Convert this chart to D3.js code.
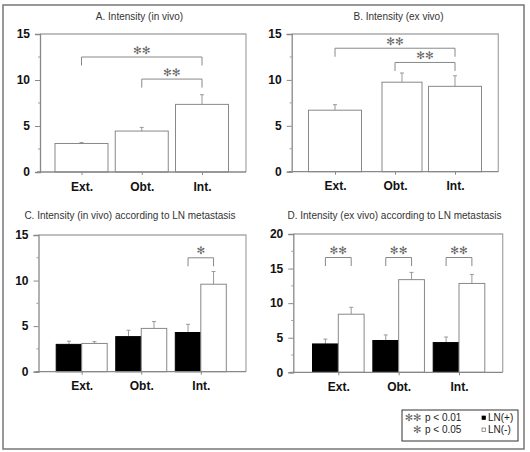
<!DOCTYPE html>
<html><head><meta charset="utf-8">
<script src="https://cdn.jsdelivr.net/npm/d3@7"></script>
<style>body{margin:0;background:#fff}svg{display:block}</style>
</head><body>
<svg id="chart" width="530" height="452"></svg>
<script>
// ---- data ----
const categories = ["Ext.", "Obt.", "Int."];
const groups = ["LN(+)", "LN(-)"];

const aMeans = [3.1, 4.45, 7.35];
const aErr   = [0.1, 0.4, 1.05];

const bMeans = [6.7, 9.75, 9.3];
const bErr   = [0.6, 1.0, 1.15];

const cPos    = [3.0, 3.85, 4.3];
const cPosErr = [0.35, 0.7, 0.9];
const cNeg    = [3.1, 4.75, 9.6];
const cNegErr = [0.2, 0.75, 1.4];

const dPos    = [4.1, 4.6, 4.3];
const dPosErr = [0.7, 0.8, 0.8];
const dNeg    = [8.4, 13.4, 12.85];
const dNegErr = [1.0, 1.05, 1.3];

const ticks15 = [0, 5, 10, 15];
const ticks20 = [0, 5, 10, 15, 20];

// brackets: [fromIndex, toIndex, level(value), label]
const aBrackets = [[0, 2, 12.5, "**"], [1, 2, 10.1, "**"]];
const bBrackets = [[0, 2, 13.45, "**"], [1, 2, 11.9, "**"]];
const cBrackets = [[2, 2, 12.5, "*"]];
const dBrackets = [[0, 0, 16.6, "**"], [1, 1, 16.6, "**"], [2, 2, 16.6, "**"]];

const titles = ["A. Intensity (in vivo)", "B. Intensity (ex vivo)",
  "C. Intensity (in vivo) according to LN metastasis",
  "D. Intensity (ex vivo) according to LN metastasis"];

// ---- drawing ----
const svg = d3.select("#chart");
const FONT = "'Liberation Sans', Arial, sans-serif";
const STAR = "'DejaVu Sans', sans-serif";

svg.append("rect").attr("x", 3).attr("y", 5).attr("width", 521).attr("height", 444)
  .attr("fill", "none").attr("stroke", "#777").attr("stroke-width", 1.5);

function starText(s) { return s.replace(/\*/g, "\u273B"); }

function panel(cfg) {
  const g = svg.append("g");
  const y = d3.scaleLinear().domain([0, cfg.yMax]).range([cfg.y0, cfg.yTop]);
  const x = d3.scalePoint().domain(categories).range([cfg.c0, cfg.c1]);

  // title
  g.append("text").attr("x", cfg.tx).attr("y", cfg.ty).attr("text-anchor", "middle")
    .attr("font-family", FONT).attr("font-size", 10).attr("fill", "#333").text(cfg.title);

  // frame (top, right)
  g.append("path").attr("d", `M${cfg.ax},${cfg.yTop}H${cfg.rx}V${cfg.y0}`)
    .attr("fill", "none").attr("stroke", "#aaa").attr("stroke-width", 1.3);

  // bars
  const bw = cfg.bw;
  cfg.series.forEach((s, si) => {
    s.vals.forEach((v, i) => {
      const c = x(categories[i]) + (cfg.shift ? cfg.shift[i] : 0);
      const w = cfg.widths ? cfg.widths[i] : bw;
      const left = cfg.series.length === 1 ? c - w / 2 : c - w + si * w;
      const cx = left + w / 2;
      // error bar
      const top = y(v + s.err[i]);
      g.append("line").attr("x1", cx).attr("x2", cx).attr("y1", y(v)).attr("y2", top)
        .attr("stroke", "#999").attr("stroke-width", 1);
      g.append("line").attr("x1", cx - 2).attr("x2", cx + 2).attr("y1", top).attr("y2", top)
        .attr("stroke", "#999").attr("stroke-width", 1);
      g.append("rect").attr("x", left).attr("y", y(v)).attr("width", w)
        .attr("height", y(0) - y(v))
        .attr("fill", s.fill).attr("stroke", s.fill === "#000" ? "#000" : "#888").attr("stroke-width", 1);
    });
  });

  // y axis
  const yAxis = d3.axisLeft(y).tickValues(cfg.ticks).tickSize(5).tickFormat(d3.format("d"));
  const ya = g.append("g").attr("transform", `translate(${cfg.ax},0)`).call(yAxis);
  ya.select(".domain").attr("stroke", "#888").attr("stroke-width", 1.3);
  ya.selectAll(".tick line").attr("stroke", "#888");
  ya.selectAll(".tick text").attr("x", -10).attr("font-family", FONT).attr("font-size", 12)
    .attr("font-weight", "bold").attr("fill", "#111");
  // minor ticks
  const minor = d3.range(2.5, cfg.yMax, 5);
  g.selectAll(null).data(minor).join("line")
    .attr("x1", cfg.ax - 2).attr("x2", cfg.ax).attr("y1", d => y(d)).attr("y2", d => y(d))
    .attr("stroke", "#999");

  // x axis
  const xa = g.append("g").attr("transform", `translate(0,${cfg.y0})`)
    .call(d3.axisBottom(x).tickSize(3).tickSizeOuter(0));
  xa.select(".domain").attr("d", `M${cfg.ax - 3},0H${cfg.rx}`).attr("stroke", "#888").attr("stroke-width", 1.3);
  xa.selectAll(".tick line").attr("stroke", "#888");
  xa.selectAll(".tick text").attr("y", 10).attr("font-family", FONT).attr("font-size", 12)
    .attr("font-weight", "bold").attr("fill", "#111");

  // brackets
  cfg.brackets.forEach(([f, t, lvl, lab]) => {
    let x1, x2;
    if (f === t) {
      const c = x(categories[f]);
      x1 = c - bw / 2; x2 = c + bw / 2;
    } else { x1 = x(categories[f]); x2 = x(categories[t]); }
    const yy = y(lvl), leg = 8.5;
    g.append("path").attr("d", `M${x1},${yy + leg}V${yy}H${x2}V${yy + leg}`)
      .attr("fill", "none").attr("stroke", "#888").attr("stroke-width", 1);
    g.append("text").attr("x", (x1 + x2) / 2).attr("y", yy - 7.5)
      .attr("text-anchor", "middle").attr("dominant-baseline", "central")
      .attr("font-family", STAR).attr("font-size", 10.5).attr("fill", "#666")
      .text(starText(lab));
  });
}

panel({ title: titles[0], tx: 139.5, ty: 20, ax: 40, rx: 246, y0: 172, yTop: 34, yMax: 15,
  ticks: ticks15, c0: 81.5, c1: 202, bw: 53,
  series: [{ vals: aMeans, err: aErr, fill: "#fff" }], brackets: aBrackets });

panel({ title: titles[1], tx: 398.5, ty: 20, ax: 291.7, rx: 498.3, y0: 171.7, yTop: 34, yMax: 15,
  ticks: ticks15, c0: 335, c1: 455, bw: 53, widths: [53, 40, 53], shift: [0, 7, 0],
  series: [{ vals: bMeans, err: bErr, fill: "#fff" }], brackets: bBrackets });

panel({ title: titles[2], tx: 130, ty: 219, ax: 38.5, rx: 246, y0: 371.7, yTop: 235, yMax: 15,
  ticks: ticks15, c0: 81.7, c1: 200.8, bw: 25.5,
  series: [{ vals: cPos, err: cPosErr, fill: "#000" }, { vals: cNeg, err: cNegErr, fill: "#fff" }],
  brackets: cBrackets });

panel({ title: titles[3], tx: 394.5, ty: 219, ax: 293.3, rx: 502.7, y0: 372.3, yTop: 234, yMax: 20,
  ticks: ticks20, c0: 338.3, c1: 459, bw: 25.8,
  series: [{ vals: dPos, err: dPosErr, fill: "#000" }, { vals: dNeg, err: dNegErr, fill: "#fff" }],
  brackets: dBrackets });

// legend
const lg = svg.append("g");
lg.append("rect").attr("x", 402).attr("y", 410).attr("width", 116).attr("height", 31)
  .attr("fill", "#fff").attr("stroke", "#333").attr("stroke-width", 1);
const sig = [["**", "p < 0.01"], ["*", "p < 0.05"]];
sig.forEach(([s, t], i) => {
  const yy = 421 + i * 12;
  lg.append("text").attr("x", 421.5).attr("y", yy - 3.5).attr("text-anchor", "end")
    .attr("dominant-baseline", "central")
    .attr("font-family", STAR).attr("font-size", 10).attr("fill", "#666").text(starText(s));
  lg.append("text").attr("x", 425).attr("y", yy).attr("font-family", FONT)
    .attr("font-size", 10).attr("fill", "#222").text(t);
});
groups.forEach((gname, i) => {
  const yy = 421 + i * 12;
  lg.append("rect").attr("x", 482).attr("y", yy - 5).attr("width", 3.5).attr("height", 3.5)
    .attr("fill", i === 0 ? "#000" : "#fff").attr("stroke", i === 0 ? "#000" : "#666").attr("stroke-width", 0.7);
  lg.append("text").attr("x", 488).attr("y", yy).attr("font-family", FONT)
    .attr("font-size", 10).attr("fill", "#222").text(gname);
});
</script>
</body></html>
